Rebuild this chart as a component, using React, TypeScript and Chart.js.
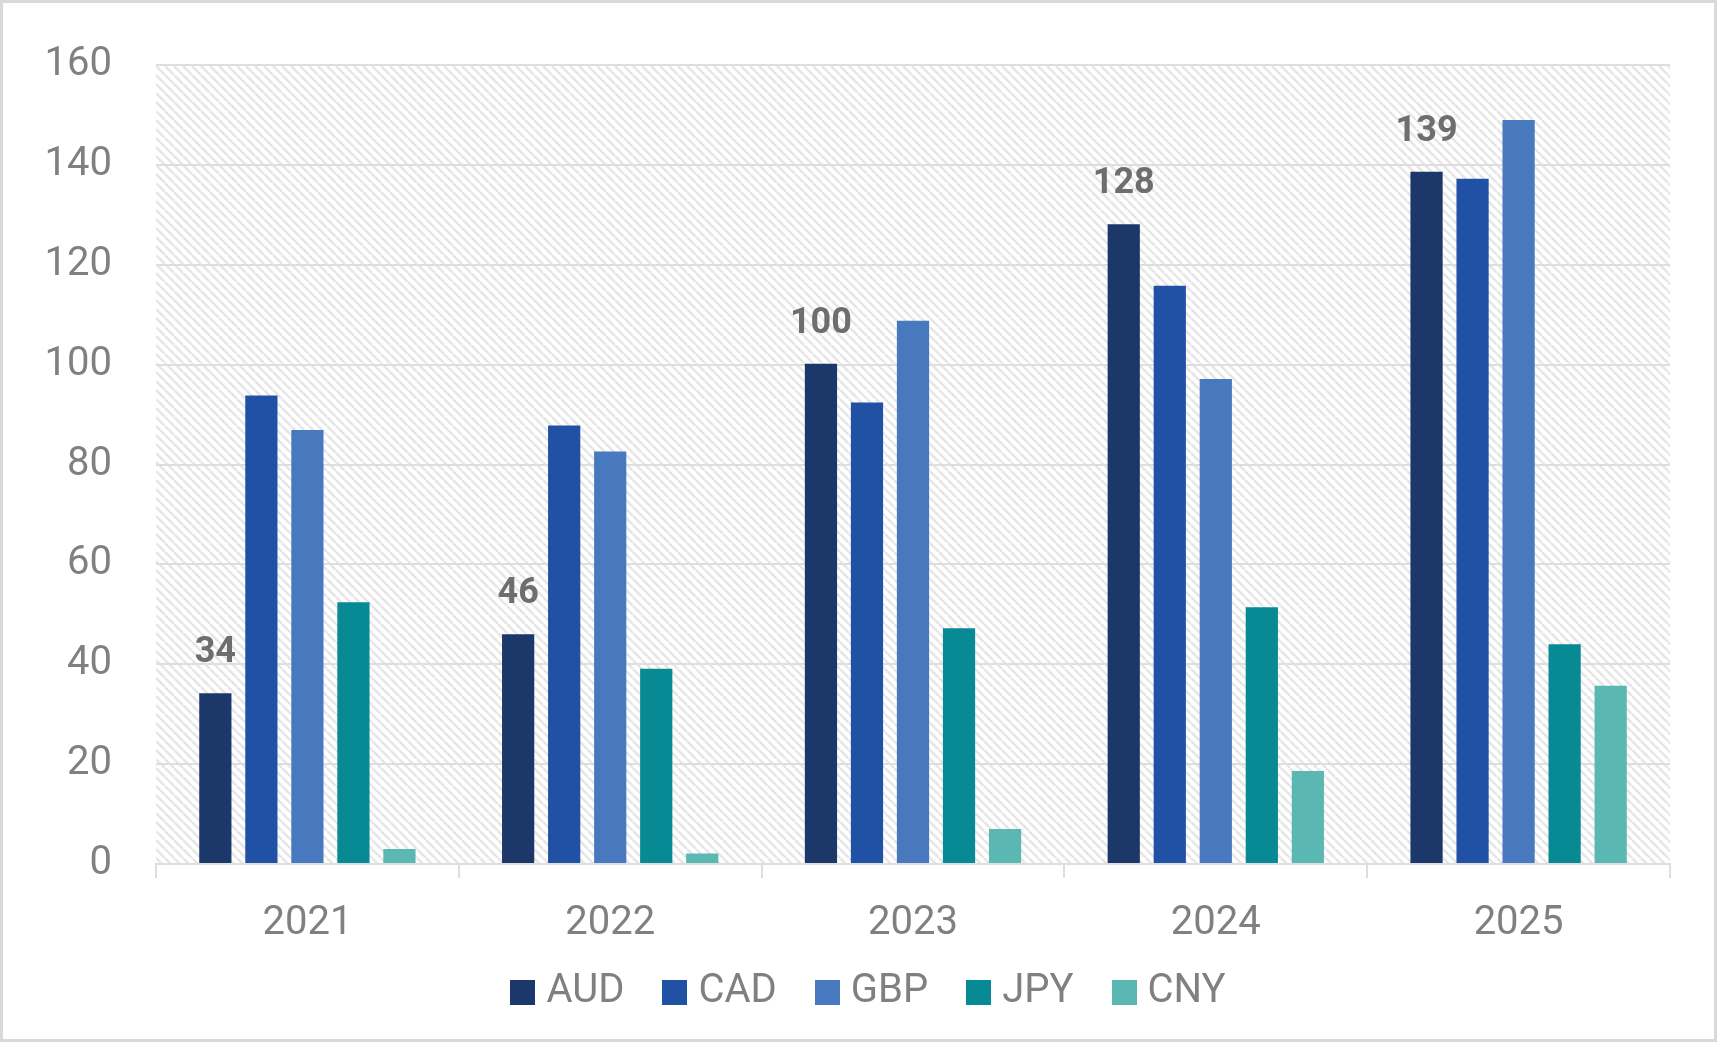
import { useEffect, useRef } from "react";
import { Chart, registerables } from "chart.js";

Chart.register(...registerables);

const years = ["2021", "2022", "2023", "2024", "2025"];
const currencies = ["AUD", "CAD", "GBP", "JPY", "CNY"];
const colors = ["#1c3769", "#2151a4", "#4879bf", "#078a94", "#5bb7b1"];
const audValues = [34.2, 46, 100.2, 128.1, 138.6];
const cadValues = [93.8, 87.8, 92.4, 115.8, 137.2];
const gbpValues = [86.9, 82.6, 108.8, 97.1, 149];
const jpyValues = [52.4, 39.1, 47.2, 51.4, 44];
const cnyValues = [3, 2.1, 7, 18.6, 35.7];
const yMin = 0;
const yMax = 160;
const yStep = 20;

const tickColor = "#808080";
const gridColor = "#dedede";

// diagonal hatch behind the plot area
const hatchPlugin = {
  id: "hatch",
  beforeDraw(chart: any) {
    const { ctx, chartArea } = chart;
    if (!chartArea) return;
    const s = 9;
    const tile = document.createElement("canvas");
    tile.width = s;
    tile.height = s;
    const t = tile.getContext("2d")!;
    t.strokeStyle = "#e6e6e6";
    t.lineWidth = 2.5;
    for (const k of [-s, 0, s]) {
      t.beginPath();
      t.moveTo(k, 0);
      t.lineTo(k + s, s);
      t.stroke();
    }
    const pattern = ctx.createPattern(tile, "repeat");
    ctx.save();
    ctx.fillStyle = pattern;
    ctx.fillRect(
      chartArea.left,
      chartArea.top,
      chartArea.right - chartArea.left,
      chartArea.bottom - chartArea.top
    );
    ctx.restore();
  },
};

// value labels above the first series only
const audLabelPlugin = {
  id: "audLabels",
  afterDatasetsDraw(chart: any) {
    const { ctx } = chart;
    const meta = chart.getDatasetMeta(0);
    ctx.save();
    ctx.font = "bold 36px Roboto";
    ctx.fillStyle = "#6e6e6e";
    ctx.textAlign = "center";
    ctx.textBaseline = "alphabetic";
    meta.data.forEach((bar: any, i: number) => {
      ctx.fillText(String(Math.round(audValues[i])), bar.x, bar.y - 31);
    });
    ctx.restore();
  },
};

// nudge the legend row into place
const legendShiftPlugin = {
  id: "legendShift",
  afterLayout(chart: any) {
    if (!chart.legend) return;
    chart.legend.left += 30;
    chart.legend.top -= 23;
  },
};

const makeSwatch = (color: string) => {
  const c = document.createElement("canvas");
  c.width = 25;
  c.height = 25;
  const g = c.getContext("2d")!;
  g.fillStyle = color;
  g.fillRect(0, 0, 25, 25);
  return c;
};

const App = () => {
  const chartRef = useRef<HTMLCanvasElement>(null);

  useEffect(() => {
    document.body.style.margin = "0";
    document.body.style.overflow = "hidden";
    if (!chartRef.current) return;

    const swatches = colors.map(makeSwatch);
    const series = [audValues, cadValues, gbpValues, jpyValues, cnyValues];

    const chart = new Chart(chartRef.current, {
      type: "bar",
      data: {
        labels: years,
        datasets: series.map((data, i) => ({
          label: currencies[i],
          data,
          backgroundColor: colors[i],
        })),
      },
      options: {
        responsive: true,
        maintainAspectRatio: false,
        animation: false,
        datasets: {
          bar: {
            categoryPercentage: 0.76,
            barPercentage: 0.7,
          },
        },
        layout: {
          padding: { left: 42, right: 44, top: 62, bottom: 17 },
        },
        plugins: {
          legend: {
            position: "bottom",
            maxHeight: 74,
            labels: {
              usePointStyle: true,
              boxWidth: 7,
              boxHeight: 25,
              padding: 47,
              color: tickColor,
              font: { family: "Roboto", size: 40 },
              generateLabels: (c: any) => {
                const items = Chart.defaults.plugins.legend.labels.generateLabels(c);
                items.forEach((item: any, i: number) => {
                  item.pointStyle = swatches[i];
                });
                return items;
              },
            },
          },
          tooltip: { enabled: false },
        },
        scales: {
          x: {
            afterFit: (scale: any) => {
              scale.height = 84;
            },
            grid: {
              drawOnChartArea: false,
              drawTicks: true,
              tickLength: 14,
              color: gridColor,
              lineWidth: 2,
            },
            border: { display: true, color: gridColor, width: 2 },
            ticks: {
              color: tickColor,
              padding: 22,
              maxRotation: 0,
              font: { family: "Roboto", size: 40 },
            },
          },
          y: {
            min: yMin,
            max: yMax,
            afterFit: (scale: any) => {
              scale.width = 111;
              scale.paddingTop = 0;
              scale.paddingBottom = 0;
            },
            grid: {
              drawTicks: false,
              color: gridColor,
              lineWidth: 2,
            },
            border: { display: false },
            ticks: {
              stepSize: yStep,
              color: tickColor,
              padding: 44,
              font: { family: "Roboto", size: 40 },
            },
          },
        },
      },
      plugins: [hatchPlugin, audLabelPlugin, legendShiftPlugin],
    });

    return () => {
      chart.destroy();
    };
  }, []);

  return (
    <div
      style={{
        width: "1717px",
        height: "1042px",
        boxSizing: "border-box",
        border: "3px solid #d9d9d9",
        background: "#fff",
      }}
    >
      <div style={{ position: "relative", width: "1711px", height: "1036px" }}>
        <canvas ref={chartRef} />
      </div>
    </div>
  );
};

export default App;
